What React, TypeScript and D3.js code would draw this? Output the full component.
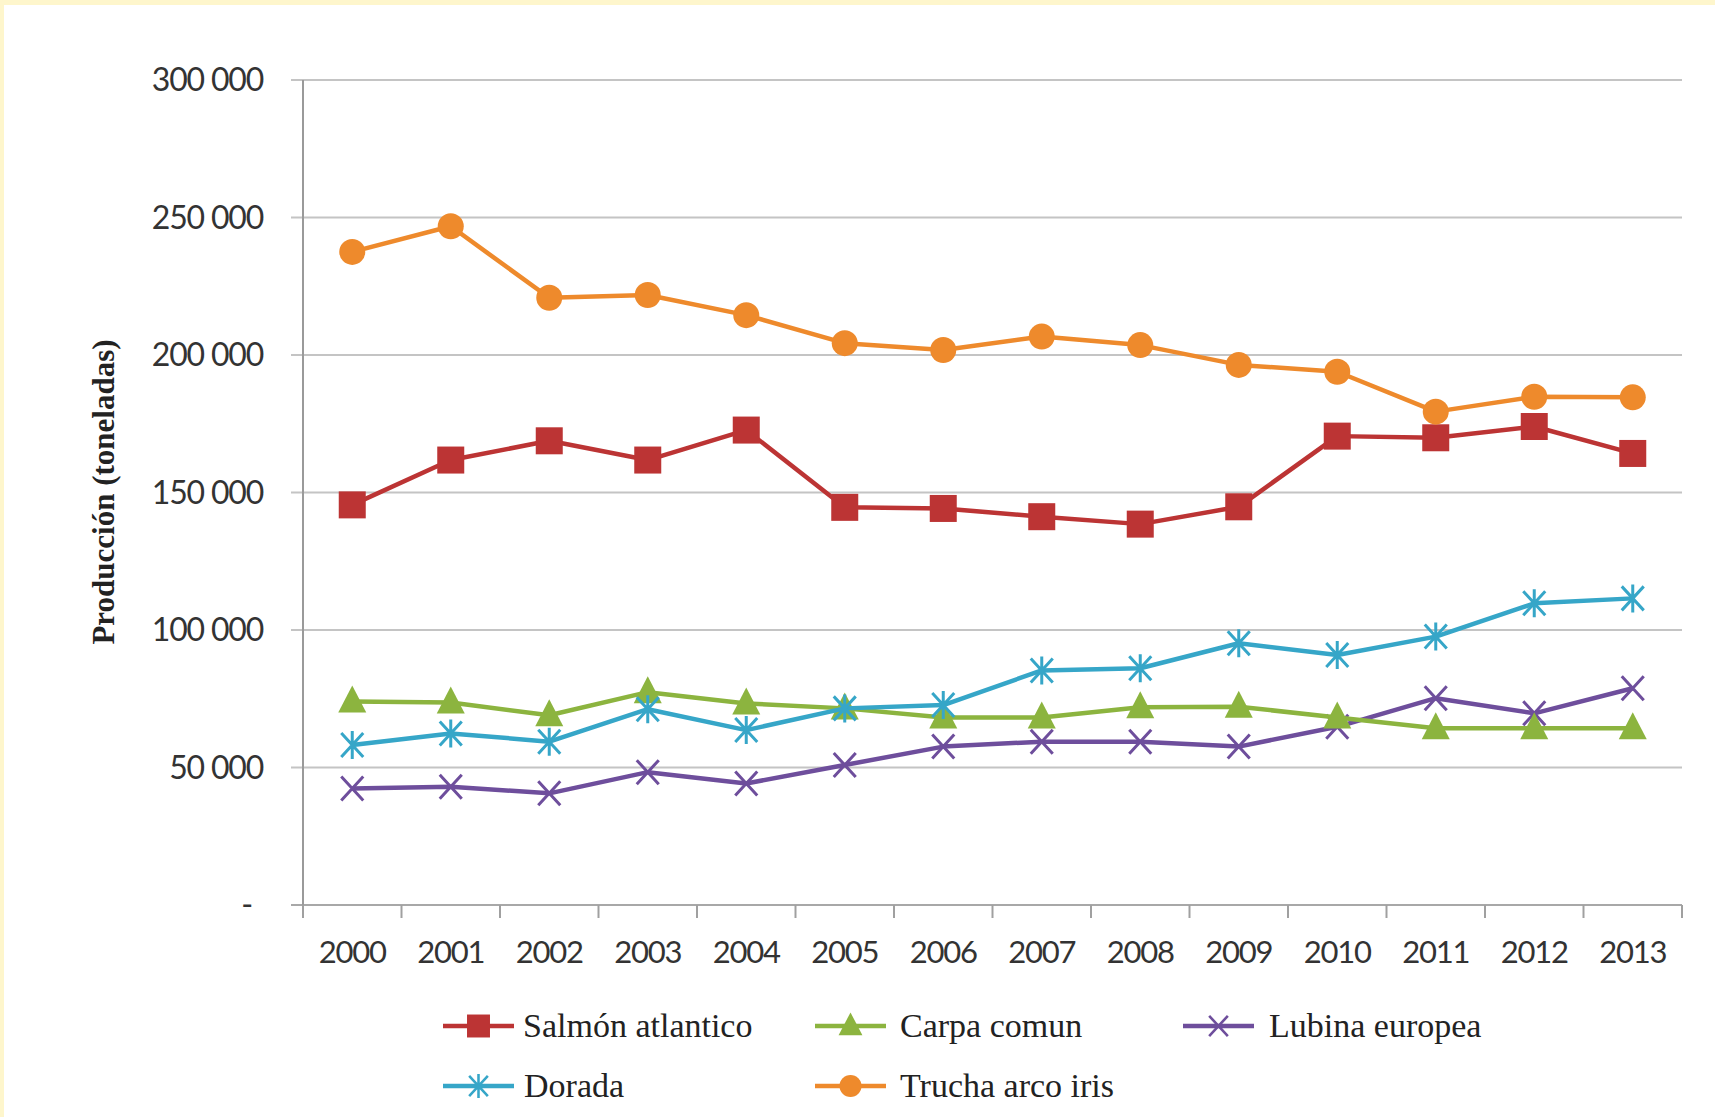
import React from "react";
import * as d3 from "d3";

const years = ["2000","2001","2002","2003","2004","2005","2006","2007","2008","2009","2010","2011","2012","2013"];
const salmon = [145500,161800,168800,161800,172700,144600,144200,141200,138500,144800,170500,169900,174000,164200];
const carpa = [74000,73600,69000,77400,73300,71500,68200,68200,71900,72100,68200,64300,64300,64300];
const lubina = [42400,43000,40600,48300,44200,50900,57600,59400,59400,57600,64800,75200,69700,78800];
const dorada = [58200,62400,59400,71200,63600,71500,72700,85300,86100,95200,90900,97600,109700,111500];
const trucha = [237500,246800,220800,221800,214500,204300,201800,206700,203600,196400,193900,179400,184800,184600];
const yTicks = [0,50000,100000,150000,200000,250000,300000];
const yTickLabels = ["-","50 000","100 000","150 000","200 000","250 000","300 000"];

type Series = { name: string; values: number[]; color: string; marker: string };
const seriesList: Series[] = [
  { name: "Salmón atlantico", values: salmon, color: "#BC3434", marker: "square" },
  { name: "Carpa comun", values: carpa, color: "#8CB43F", marker: "triangle" },
  { name: "Lubina europea", values: lubina, color: "#6E4E9C", marker: "x" },
  { name: "Dorada", values: dorada, color: "#36A6C8", marker: "star" },
  { name: "Trucha arco iris", values: trucha, color: "#EE8A2C", marker: "circle" },
];
const drawOrder = ["Lubina europea", "Carpa comun", "Dorada", "Salmón atlantico", "Trucha arco iris"];

const W = 1715, H = 1117;
const left = 303, right = 1682, top = 80, bottom = 905;

function Marker({ type, x, y, color }: { type: string; x: number; y: number; color: string }) {
  if (type === "square") return <rect x={x - 13.5} y={y - 13.5} width={27} height={27} fill={color} />;
  if (type === "circle") return <circle cx={x} cy={y} r={13} fill={color} />;
  if (type === "triangle") return <path d={`M${x},${y - 16} L${x + 14},${y + 11} L${x - 14},${y + 11} Z`} fill={color} />;
  if (type === "x") return <path d={`M${x - 11},${y - 12} L${x + 11},${y + 12} M${x + 11},${y - 12} L${x - 11},${y + 12}`} stroke={color} strokeWidth={3} />;
  return <path d={`M${x - 11},${y - 12} L${x + 11},${y + 12} M${x + 11},${y - 12} L${x - 11},${y + 12} M${x},${y - 14} L${x},${y + 14}`} stroke={color} strokeWidth={3} />;
}

export default function App() {
  const x = d3.scaleBand<string>().domain(years).range([left, right]);
  const y = d3.scaleLinear().domain([0, 300000]).range([bottom, top]);
  const cx = (yr: string) => (x(yr) as number) + x.bandwidth() / 2;
  const line = d3.line<number>().x((_, i) => cx(years[i])).y((v) => y(v));
  const boundaries = years.map((yr) => x(yr) as number).concat([right]);

  const legendPos: Record<string, { lx: number; ly: number; tx: number }> = {
    "Salmón atlantico": { lx: 443, ly: 1026, tx: 523 },
    "Carpa comun": { lx: 815, ly: 1026, tx: 900 },
    "Lubina europea": { lx: 1183, ly: 1026, tx: 1269 },
    "Dorada": { lx: 443, ly: 1086, tx: 524 },
    "Trucha arco iris": { lx: 815, ly: 1086, tx: 900 },
  };

  return (
    <svg width={W} height={H} style={{ position: "absolute", left: 0, top: 0, background: "#fff" }}>
      <rect x={0} y={0} width={W} height={H} fill="#FEF6CC" />
      <rect x={4} y={5} width={W - 4} height={H - 5} fill="#FFFFFF" />
      {yTicks.map((t) => (
        <line key={t} x1={291} x2={right} y1={y(t)} y2={y(t)} stroke={t === 0 ? "#A8A8A8" : "#C4C4C4"} strokeWidth={2} />
      ))}
      <line x1={left} x2={left} y1={top} y2={bottom + 13} stroke="#9A9A9A" strokeWidth={2} />
      {boundaries.map((b, i) => (
        <line key={i} x1={b} x2={b} y1={bottom} y2={bottom + 13} stroke="#A0A0A0" strokeWidth={2} />
      ))}
      {yTicks.map((t, i) => (
        <text key={t} x={i === 0 ? 252 : 263} y={y(t) + 11} textAnchor="end" fontFamily="Lato, 'Open Sans', sans-serif" fontSize={32} letterSpacing={-1.2} fill="#333">
          {yTickLabels[i]}
        </text>
      ))}
      {years.map((yr) => (
        <text key={yr} x={cx(yr)} y={963} textAnchor="middle" fontFamily="Lato, 'Open Sans', sans-serif" fontSize={31} letterSpacing={-1.2} fill="#333">
          {yr}
        </text>
      ))}
      <text transform="translate(114,492) rotate(-90)" textAnchor="middle" fontFamily="'Liberation Serif', 'DejaVu Serif', serif" fontWeight="bold" fontSize={31} fill="#222">
        Producción (toneladas)
      </text>
      {drawOrder.map((nm) => {
        const s = seriesList.find((d) => d.name === nm)!;
        return (
          <g key={nm}>
            <path d={line(s.values) || ""} fill="none" stroke={s.color} strokeWidth={4.5} strokeLinejoin="round" />
            {s.values.map((v, i) => (
              <Marker key={i} type={s.marker} x={cx(years[i])} y={y(v)} color={s.color} />
            ))}
          </g>
        );
      })}
      {seriesList.map((s) => {
        const p = legendPos[s.name];
        return (
          <g key={s.name}>
            <line x1={p.lx} x2={p.lx + 71} y1={p.ly} y2={p.ly} stroke={s.color} strokeWidth={4.5} />
            <g transform={`translate(${p.lx + 35.5},${p.ly}) scale(0.85)`}>
              <Marker type={s.marker} x={0} y={0} color={s.color} />
            </g>
            <text x={p.tx} y={p.ly + 11} fontFamily="'Liberation Serif', 'DejaVu Serif', serif" fontSize={34} fill="#222">
              {s.name}
            </text>
          </g>
        );
      })}
    </svg>
  );
}
